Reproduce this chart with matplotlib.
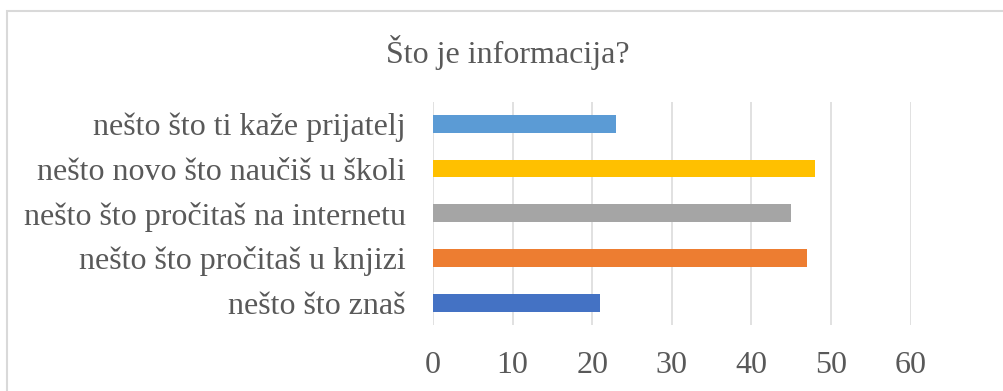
import matplotlib
matplotlib.use("Agg")
import matplotlib.pyplot as plt
from matplotlib.patches import Rectangle

# Odgovori, odozdo prema gore
kategorije = [
    "nešto što znaš",
    "nešto što pročitaš u knjizi",
    "nešto što pročitaš na internetu",
    "nešto novo što naučiš u školi",
    "nešto što ti kaže prijatelj",
]
broj_odgovora = [21, 47, 45, 48, 23]
boje = ["#4472C4", "#ED7D31", "#A5A5A5", "#FFC000", "#5B9BD5"]
x_oznake = [0, 10, 20, 30, 40, 50, 60]

TEKST = "#595959"
MREZA = "#D9D9D9"

plt.rcParams["font.family"] = ["Liberation Serif", "DejaVu Serif"]

fig = plt.figure(figsize=(10.04, 3.91), dpi=100)
ax = fig.add_axes([0.4313, 0.1688, 0.4758, 0.5716])

y = list(range(len(kategorije)))
ax.barh(y, broj_odgovora, height=0.4, color=boje, zorder=3)

ax.set_xlim(0, 60)
ax.set_ylim(-0.5, len(kategorije) - 0.5)
ax.set_xticks(x_oznake)
ax.set_xticklabels([str(v) for v in x_oznake], fontsize=23, color=TEKST)
ax.set_yticks(y)
ax.set_yticklabels(kategorije, fontsize=23, color=TEKST)
ax.tick_params(axis="x", length=0, pad=19)
ax.tick_params(axis="y", length=0, pad=19.5)
ax.grid(axis="x", color=MREZA, linewidth=1.1, zorder=0)
for s in ax.spines.values():
    s.set_visible(False)

fig.text(508 / 1004, 1 - 52 / 391, "Što je informacija?", fontsize=23,
         color=TEKST, ha="center", va="center")

# okvir grafikona
fig.patches.append(Rectangle((7 / 1004, -0.1), 1.2, 1.1 - 11.5 / 391,
                             transform=fig.transFigure, fill=False,
                             edgecolor=MREZA, linewidth=1.5))

fig.savefig("out.png", dpi=100)
